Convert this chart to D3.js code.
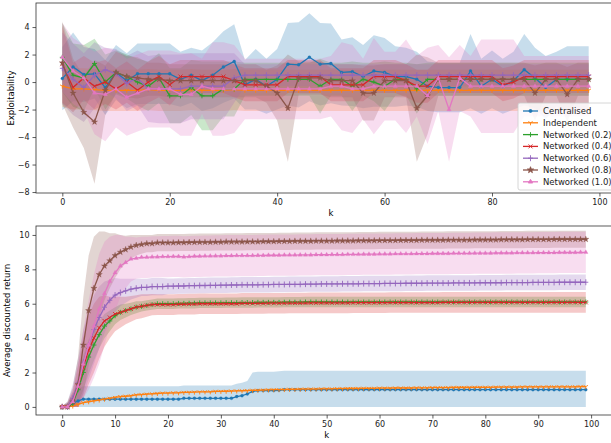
<!DOCTYPE html>
<html><head><meta charset="utf-8">
<script src="https://cdn.jsdelivr.net/npm/d3@7"></script>
<style>body{margin:0;background:#fff}text{font-family:"DejaVu Sans",sans-serif}</style>
</head><body><svg id="c" width="611" height="443"></svg>
<script>
var names = ['Centralised','Independent','Networked (0.2)','Networked (0.4)','Networked (0.6)','Networked (0.8)','Networked (1.0)']
var colors = ['#1f77b4','#ff7f0e','#2ca02c','#d62728','#9467bd','#8c564b','#e377c2']
var markers = ['dot','tri','plus','x','vbar','star','triup']

// top: exploitability, k = 0,2,...,98
var topK = d3.range(0, 100, 2)
var expMean = [
 [0.25,1.1,0.55,0.6,-0.4,0.7,0.1,0.6,0.6,0.6,0.6,0.2,0.5,0.1,0.5,1.1,1.5,-0.2,0.2,-0.3,0.2,1.3,1.25,1.8,1.3,1.35,0.7,0.75,0.4,0.8,0.7,0.4,0.4,0.2,-0.3,-0.4,-0.4,-0.4,0.8,-0.3,0.2,-0.3,0.1,0.9,0.3,-0.4,0.2,0.2,0.2,0.2],
 [-0.3,-0.5,-0.5,-0.55,-0.6,-0.6,-0.6,-0.6,-0.55,-0.6,-0.6,-0.6,-0.55,-0.6,-0.6,-0.6,-0.55,-0.6,-0.6,-0.6,-0.6,-0.6,-0.6,-0.6,-0.6,-0.6,-0.6,-0.6,-0.6,-0.6,-0.6,-0.6,-0.6,-0.6,-0.6,-0.6,-0.6,-0.6,-0.6,-0.6,-0.6,-0.6,-0.6,-0.6,-0.6,-0.6,-0.6,-0.6,-0.6,-0.6],
 [1.8,0.5,0.3,1.35,0.0,0.7,0.4,0.0,-0.3,0.3,-1.0,-1.0,-0.4,-1.0,-1.0,-0.5,-0.5,0.2,0.2,0.2,0.2,0.2,0.2,0.2,-0.3,0.2,0.2,-0.3,0.2,0.0,-0.3,0.2,0.2,-0.5,0.2,0.2,0.2,0.2,0.2,0.2,0.2,0.2,0.2,0.2,0.2,0.2,0.2,0.2,0.2,0.2],
 [1.3,-0.4,0.3,-0.3,0.0,-0.5,0.0,-0.6,0.0,0.4,-0.2,0.4,0.4,0.4,0.4,0.4,0.1,-0.2,-0.2,-0.2,-0.2,0.4,0.4,0.4,0.4,-0.2,-0.2,-0.2,-0.2,0.4,0.4,0.4,0.1,-0.3,-0.3,0.4,0.4,0.4,0.4,0.4,0.4,-0.2,0.0,0.4,0.4,0.4,0.4,0.4,0.4,0.4],
 [1.0,0.2,-0.4,0.5,0.9,0.6,-0.1,0.3,-0.5,-0.5,-0.5,-0.5,-0.3,-0.3,-0.3,-0.3,0.3,0.5,0.5,0.5,0.5,0.5,0.5,0.5,0.5,0.5,0.5,0.5,0.5,0.5,0.5,0.5,0.5,0.5,0.5,0.5,0.5,0.5,0.5,0.5,0.5,0.5,0.5,0.5,0.5,0.5,0.5,0.5,0.5,0.5],
 [1.4,-0.8,-2.2,-2.9,-0.6,0.7,0.4,0.3,0.2,0.2,0.1,0.1,0.1,0.1,0.1,0.1,0.1,0.1,0.1,-0.3,-0.8,-1.9,0.3,0.3,0.3,0.1,0.1,0.1,-0.8,-0.8,0.1,0.1,0.1,-1.9,-1.0,0.2,0.2,0.2,0.2,0.2,0.2,0.2,0.2,0.2,-0.8,0.2,0.2,-0.9,0.2,0.2],
 [1.8,0.8,0.3,-0.8,-0.9,-0.5,-1.1,-0.8,-0.5,-0.5,-0.5,-0.9,-0.9,-0.3,-0.5,-0.5,-0.5,-0.5,-0.5,-0.5,-0.5,-0.5,-0.5,-0.5,-0.5,-0.3,-0.3,-0.5,-0.5,-0.3,-0.3,-0.3,-0.3,-0.3,-1.0,0.3,-2.0,0.3,-0.3,-0.3,-0.3,-0.3,-0.3,-0.3,-0.3,-0.3,-0.3,-0.3,-0.3,-0.3]
]
var expStd = [
 [2.3,2.5,2.0,1.8,2.0,2.0,2.0,2.2,2.2,2.2,2.2,2.0,2.0,2.2,2.4,2.6,2.7,1.8,2.2,2.0,2.2,3.0,3.1,3.2,3.0,2.9,2.4,2.5,2.3,2.6,2.5,2.2,2.1,2.0,1.8,1.8,1.8,1.8,2.7,2.0,2.1,2.0,2.1,2.6,2.2,2.3,2.0,2.4,2.4,2.4],
 [1.5,1.5,1.5,1.5,1.5,1.5,1.5,1.5,1.5,1.5,1.5,1.5,1.5,1.5,1.5,1.5,1.5,1.5,1.5,1.5,1.5,1.5,1.5,1.5,1.5,1.5,1.5,1.5,1.5,1.5,1.5,1.5,1.5,1.5,1.5,1.5,1.5,1.5,1.5,1.5,1.5,1.5,1.5,1.5,1.5,1.5,1.5,1.5,1.5,1.5],
 [2.5,2.3,2.4,1.8,2.0,1.6,1.6,1.7,1.8,1.8,2.0,2.0,2.0,2.5,2.5,2.0,2.0,1.2,1.2,1.2,1.2,1.2,1.2,1.2,2.0,1.2,1.2,1.8,1.2,1.4,1.8,1.2,1.2,1.8,1.2,1.2,1.2,1.2,1.2,1.2,1.2,1.2,1.2,1.2,1.2,1.2,1.2,1.2,1.2,1.2],
 [2.8,1.8,1.6,1.7,1.6,1.5,1.5,1.5,1.5,1.5,1.5,1.2,1.2,1.2,1.2,1.2,1.2,1.2,1.2,1.2,1.2,1.2,1.2,1.2,1.2,1.2,1.2,1.2,1.2,1.2,1.2,1.2,1.2,1.2,1.2,1.2,1.2,1.2,1.2,1.2,1.2,1.2,1.2,1.2,1.2,1.2,1.2,1.2,1.2,1.2],
 [2.6,2.6,2.5,2.4,1.6,1.8,2.0,2.0,2.4,2.5,2.5,2.5,2.4,2.4,2.4,2.4,1.8,0.8,0.8,0.8,0.8,0.8,0.8,0.8,0.8,0.8,0.8,0.8,0.8,0.8,0.8,0.8,0.8,0.8,0.8,0.8,0.8,0.8,0.8,0.8,0.8,0.8,0.8,0.8,0.8,0.8,0.8,0.8,0.8,0.8],
 [3.0,2.5,2.6,4.5,1.8,1.5,1.5,1.5,1.2,1.2,1.2,1.2,1.2,1.2,1.2,1.2,1.2,1.2,1.2,1.2,2.0,3.9,1.2,1.2,1.2,1.2,1.2,1.2,2.0,2.0,1.2,1.2,1.2,3.9,2.8,1.2,1.2,1.2,1.2,1.2,1.2,1.2,1.2,1.2,2.0,1.2,1.2,2.0,1.2,1.2],
 [2.5,2.4,2.4,3.0,3.4,2.8,2.8,2.8,2.8,2.8,2.8,3.0,3.0,2.0,3.4,3.4,3.2,2.2,2.2,2.2,2.2,2.2,2.2,2.2,2.2,2.2,3.2,3.2,2.2,3.5,2.5,2.5,3.4,2.2,3.5,2.4,3.8,2.4,2.2,3.4,3.4,3.4,3.4,2.2,2.2,2.2,2.2,2.2,2.2,2.2]
]

// bottom: average discounted return, k = 0..99
var botK = d3.range(0, 100)
var retMean = [
 [0,0,0.2,0.35,0.45,0.45,0.45,0.45,0.45,0.45,0.45,0.45,0.45,0.45,0.45,0.45,0.45,0.45,0.45,0.45,0.45,0.45,0.45,0.5,0.5,0.5,0.5,0.5,0.5,0.5,0.5,0.5,0.5,0.6,0.65,0.75,0.9,0.95,0.95,0.95,0.95,0.97,1.0,1.0,1.0,1.0,1.0,1.0,1.0,1.0,1.0,1.0,1.0,1.0,1.0,1.0,1.0,1.0,1.0,1.0,1.0,1.0,1.0,1.0,1.0,1.0,1.0,1.0,1.0,1.0,1.0,1.0,1.0,1.0,1.0,1.0,1.0,1.0,1.0,1.0,1.0,1.0,1.0,1.0,1.0,1.0,1.0,1.0,1.0,1.0,1.0,1.0,1.0,1.0,1.0,1.0,1.0,1.0,1.0,1.0],
 [0,0,0.05,0.15,0.25,0.3,0.35,0.4,0.45,0.5,0.55,0.6,0.62,0.65,0.7,0.72,0.74,0.76,0.78,0.8,0.8,0.82,0.82,0.84,0.85,0.86,0.87,0.88,0.88,0.9,0.9,0.91,0.92,0.93,0.94,0.95,0.96,0.97,0.98,0.99,1.0,1.0,1.01,1.02,1.02,1.03,1.03,1.04,1.04,1.05,1.05,1.05,1.06,1.06,1.07,1.07,1.07,1.08,1.08,1.08,1.09,1.09,1.09,1.1,1.1,1.1,1.1,1.11,1.11,1.11,1.12,1.12,1.12,1.12,1.13,1.13,1.13,1.13,1.14,1.14,1.14,1.14,1.15,1.15,1.15,1.15,1.15,1.16,1.16,1.16,1.16,1.16,1.17,1.17,1.17,1.17,1.17,1.17,1.18,1.18],
 [0,0,0.2,1.0,2.0,2.9,3.6,4.2,4.7,5.0,5.3,5.5,5.6,5.7,5.8,5.85,5.9,5.95,6.0,6.0,6.0,6.0,6.02,6.02,6.03,6.03,6.05,6.05,6.05,6.05,6.05,6.06,6.06,6.06,6.07,6.07,6.07,6.08,6.08,6.08,6.08,6.08,6.09,6.09,6.09,6.09,6.1,6.1,6.1,6.1,6.1,6.1,6.1,6.1,6.1,6.1,6.1,6.1,6.1,6.1,6.1,6.1,6.1,6.1,6.1,6.1,6.1,6.1,6.1,6.1,6.1,6.1,6.1,6.1,6.1,6.1,6.1,6.1,6.1,6.1,6.1,6.1,6.1,6.1,6.1,6.1,6.1,6.1,6.1,6.1,6.1,6.1,6.1,6.1,6.1,6.1,6.1,6.1,6.1,6.1],
 [0,0,0.3,1.2,2.3,3.3,4.0,4.6,5.0,5.2,5.4,5.5,5.6,5.7,5.8,5.85,5.9,5.95,5.95,5.95,5.95,5.95,5.97,5.97,5.98,5.98,6.0,6.0,6.0,6.0,6.0,6.0,6.0,6.0,6.02,6.02,6.02,6.02,6.02,6.03,6.03,6.03,6.03,6.04,6.04,6.04,6.04,6.05,6.05,6.05,6.05,6.05,6.05,6.05,6.05,6.06,6.06,6.06,6.06,6.06,6.06,6.06,6.07,6.07,6.07,6.07,6.07,6.07,6.07,6.07,6.07,6.07,6.08,6.08,6.08,6.08,6.08,6.08,6.08,6.08,6.08,6.08,6.08,6.08,6.08,6.08,6.08,6.08,6.08,6.08,6.08,6.08,6.08,6.08,6.08,6.08,6.08,6.08,6.08,6.08],
 [0,0,0.5,1.4,2.6,3.6,4.5,5.2,5.8,6.2,6.5,6.65,6.75,6.85,6.9,6.95,6.95,7.0,7.0,7.0,7.02,7.02,7.03,7.03,7.05,7.05,7.06,7.06,7.07,7.07,7.08,7.08,7.09,7.09,7.1,7.1,7.1,7.1,7.11,7.11,7.12,7.12,7.12,7.13,7.13,7.13,7.14,7.14,7.14,7.15,7.15,7.15,7.15,7.16,7.16,7.16,7.16,7.17,7.17,7.17,7.17,7.18,7.18,7.18,7.18,7.19,7.19,7.19,7.19,7.2,7.2,7.2,7.2,7.2,7.21,7.21,7.21,7.21,7.21,7.22,7.22,7.22,7.22,7.22,7.23,7.23,7.23,7.23,7.23,7.24,7.24,7.24,7.24,7.24,7.25,7.25,7.25,7.25,7.25,7.25],
 [0,0,0.3,1.3,3.6,5.6,6.9,7.7,8.2,8.5,8.8,9.0,9.15,9.3,9.4,9.45,9.5,9.5,9.55,9.55,9.55,9.55,9.56,9.56,9.57,9.57,9.58,9.58,9.58,9.59,9.59,9.6,9.6,9.6,9.6,9.61,9.61,9.61,9.62,9.62,9.62,9.63,9.63,9.63,9.64,9.64,9.64,9.64,9.65,9.65,9.65,9.65,9.66,9.66,9.66,9.66,9.67,9.67,9.67,9.67,9.68,9.68,9.68,9.68,9.69,9.69,9.69,9.69,9.7,9.7,9.7,9.7,9.7,9.71,9.71,9.71,9.71,9.71,9.72,9.72,9.72,9.72,9.72,9.73,9.73,9.73,9.73,9.73,9.74,9.74,9.74,9.74,9.74,9.75,9.75,9.75,9.75,9.75,9.75,9.75],
 [0,0,0.3,1.2,2.5,3.6,4.7,5.7,6.6,7.3,7.8,8.2,8.4,8.6,8.65,8.7,8.7,8.72,8.72,8.74,8.74,8.75,8.75,8.72,8.74,8.76,8.76,8.77,8.77,8.78,8.78,8.79,8.79,8.8,8.8,8.8,8.8,8.81,8.81,8.82,8.82,8.82,8.83,8.83,8.83,8.84,8.84,8.84,8.85,8.85,8.85,8.86,8.86,8.86,8.87,8.87,8.87,8.88,8.88,8.88,8.89,8.89,8.89,8.9,8.9,8.9,8.9,8.91,8.91,8.91,8.92,8.92,8.92,8.92,8.93,8.93,8.93,8.93,8.94,8.94,8.94,8.94,8.95,8.95,8.95,8.95,8.96,8.96,8.96,8.96,8.97,8.97,8.97,8.97,8.98,8.98,8.98,8.98,8.99,8.99]
]
// std for the first 20 steps, then the settled value for the rest
var retStdHead = [
 [0.05,0.2,0.6,0.75,0.75,0.75,0.75,0.75,0.75,0.75,0.75,0.75,0.75,0.75,0.75,0.75,0.75,0.75,0.75,0.75],
 [0.02,0.03,0.04,0.05,0.05,0.05,0.05,0.05,0.05,0.05,0.05,0.05,0.05,0.05,0.05,0.05,0.05,0.05,0.05,0.05],
 [0.05,0.2,0.4,0.8,1.0,1.0,0.9,0.8,0.7,0.6,0.5,0.45,0.4,0.35,0.35,0.3,0.3,0.3,0.3,0.3],
 [0.05,0.2,0.6,1.2,1.8,2.0,2.0,1.8,1.5,1.2,1.0,0.9,0.8,0.75,0.7,0.7,0.65,0.62,0.6,0.6],
 [0.05,0.3,0.8,1.4,1.9,2.0,2.0,1.8,1.5,1.2,1.0,0.8,0.7,0.6,0.55,0.5,0.5,0.5,0.5,0.5],
 [0.05,0.3,0.8,1.6,2.8,3.2,3.0,2.5,2.0,1.6,1.3,1.0,0.8,0.7,0.6,0.55,0.5,0.5,0.5,0.5],
 [0.05,0.2,0.6,1.2,2.0,2.6,3.0,3.2,3.0,2.6,2.2,1.8,1.5,1.3,1.2,1.2,1.2,1.2,1.2,1.2]
]
var retStdTail = [0.75,0.05,0.3,0.6,0.45,0.5,1.2]
var blueStdLate = 1.1   // centralised band widens from k = 36

var svg = d3.select('#c')
var defs = svg.append('defs')

function symbolFor(m) {
  if (m == 'dot') return d3.symbol().type(d3.symbolCircle).size(7)()
  if (m == 'star') return d3.symbol().type(d3.symbolStar).size(12)()
  if (m == 'triup') return d3.symbol().type(d3.symbolTriangle).size(8)()
  if (m == 'plus') return 'M-2.5,0H2.5M0,-2.5V2.5'
  if (m == 'x') return 'M-2,-2L2,2M-2,2L2,-2'
  if (m == 'vbar') return 'M-2.5,0H2.5M0,-3V3'
  return 'M0,0V2.5M0,0L-2.2,-1.3M0,0L2.2,-1.3'
}
function isFilled(m) { return m == 'dot' || m == 'star' || m == 'triup' }

function panel(opt) {
  var x = d3.scaleLinear().domain(opt.xd).range([opt.l, opt.r])
  var y = d3.scaleLinear().domain(opt.yd).range([opt.b, opt.t])
  var g = svg.append('g')
  defs.append('clipPath').attr('id', opt.id).append('rect')
    .attr('x', opt.l).attr('y', opt.t).attr('width', opt.r - opt.l).attr('height', opt.b - opt.t)
  var area = d3.area().x(function(d){return x(d.k)}).y0(function(d){return y(d.lo)}).y1(function(d){return y(d.hi)})
  var line = d3.line().x(function(d){return x(d.k)}).y(function(d){return y(d.v)})
  var plot = g.append('g').attr('clip-path', 'url(#' + opt.id + ')')
  var series = opt.series
  series.forEach(function(s, i) {
    plot.append('path').datum(s).attr('d', area).attr('fill', colors[i]).attr('fill-opacity', 0.25)
  })
  series.forEach(function(s, i) {
    plot.append('path').datum(s).attr('d', line).attr('fill', 'none').attr('stroke', colors[i]).attr('stroke-width', 1.3)
    plot.selectAll(null).data(s).enter().append('path')
      .attr('transform', function(d){return 'translate(' + x(d.k) + ',' + y(d.v) + ')'})
      .attr('d', symbolFor(markers[i]))
      .attr('fill', isFilled(markers[i]) ? colors[i] : 'none')
      .attr('stroke', colors[i]).attr('stroke-width', isFilled(markers[i]) ? 0.3 : 0.9)
  })
  var xa = g.append('g').attr('transform', 'translate(0,' + opt.b + ')')
    .call(d3.axisBottom(x).tickValues(opt.xt).tickFormat(d3.format('d')).tickSize(3.5).tickPadding(3))
  var ya = g.append('g').attr('transform', 'translate(' + opt.l + ',0)')
    .call(d3.axisLeft(y).tickValues(opt.yt).tickFormat(function(d){return d < 0 ? '\u2212' + (-d) : d}).tickSize(3.5).tickPadding(3))
  ;[xa, ya].forEach(function(a) {
    a.selectAll('text').attr('font-size', 8).attr('fill', '#222')
    a.selectAll('line').attr('stroke', '#333').attr('stroke-width', 0.8)
    a.select('.domain').remove()
  })
  g.append('rect').attr('x', opt.l).attr('y', opt.t).attr('width', opt.r - opt.l).attr('height', opt.b - opt.t)
    .attr('fill', 'none').attr('stroke', '#333').attr('stroke-width', 0.8)
  g.append('text').attr('x', x(50)).attr('y', opt.b + 23).attr('text-anchor', 'middle').attr('font-size', 8.5).text('k')
  g.append('text').attr('transform', 'translate(' + opt.yl + ',' + ((opt.t + opt.b) / 2) + ') rotate(-90)')
    .attr('text-anchor', 'middle').attr('font-size', 8.5).text(opt.ylabel)
}

var topSeries = expMean.map(function(m, i) {
  return m.map(function(v, j) { return {k: topK[j], v: v, lo: v - expStd[i][j], hi: v + expStd[i][j]} })
})
var botSeries = retMean.map(function(m, i) {
  return m.map(function(v, j) {
    var s = j < 20 ? retStdHead[i][j] : retStdTail[i]
    if (i == 0 && j >= 36) s = blueStdLate
    var lo = Math.max(0, v - s)
    return {k: botK[j], v: v, lo: lo, hi: v + s}
  })
})

panel({id: 'cl1', series: topSeries, xd: [-4.9, 102.9], yd: [-8.07, 5.75], l: 36, r: 615, t: 3, b: 193,
  xt: [0, 20, 40, 60, 80, 100], yt: [-8, -6, -4, -2, 0, 2, 4], ylabel: 'Exploitability', yl: 14})
panel({id: 'cl2', series: botSeries, xd: [-4.95, 103.95], yd: [-0.47, 10.52], l: 36, r: 612, t: 226, b: 415,
  xt: d3.range(0, 101, 10), yt: [0, 2, 4, 6, 8, 10], ylabel: 'Average discounted return', yl: 10})

// legend
var lg = svg.append('g').attr('transform', 'translate(518,103)')
lg.append('rect').attr('width', 100).attr('height', 87).attr('rx', 2)
  .attr('fill', '#fff').attr('fill-opacity', 0.85).attr('stroke', '#ccc').attr('stroke-width', 0.8)
names.forEach(function(n, i) {
  var yy = 8 + i * 11.8
  lg.append('line').attr('x1', 5).attr('x2', 20).attr('y1', yy).attr('y2', yy).attr('stroke', colors[i]).attr('stroke-width', 1.3)
  lg.append('path').attr('transform', 'translate(12.5,' + yy + ')').attr('d', symbolFor(markers[i]))
    .attr('fill', isFilled(markers[i]) ? colors[i] : 'none').attr('stroke', colors[i]).attr('stroke-width', 0.9)
  lg.append('text').attr('x', 25).attr('y', yy + 3).attr('font-size', 8.5).attr('fill', '#222').text(n)
})
</script></body></html>
